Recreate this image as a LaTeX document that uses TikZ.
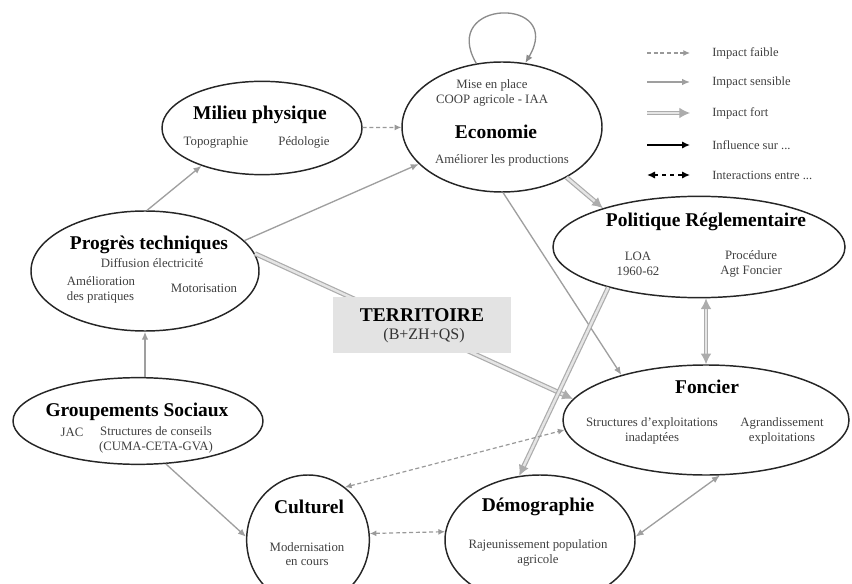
\documentclass[tikz,border=0pt]{standalone}
\usepackage{fontspec}
\setmainfont{Liberation Serif}
\usetikzlibrary{shapes.geometric,arrows.meta}
\tikzset{
  blob/.style={ellipse, draw=black!85, line width=1.1pt, inner sep=0pt},
  ttl/.style={font=\fontsize{14.6}{15}\selectfont\bfseries, inner sep=0pt},
  sub/.style={font=\fontsize{9.6}{11}\selectfont, align=center, text=black!75, inner sep=0pt},
  leg/.style={font=\fontsize{9.4}{10}\selectfont, text=black!75, anchor=west, inner sep=0pt},
  faible/.style={draw=gray!80, line width=0.9pt, dash pattern=on 3pt off 2pt, -{Latex[length=5pt,width=4.5pt]}},
  faible2/.style={faible, {Latex[length=5pt,width=4.5pt]}-{Latex[length=5pt,width=4.5pt]}},
  sensible/.style={draw=gray!75, line width=1pt, -{Latex[length=6pt,width=5pt]}},
  sensible2/.style={sensible, {Latex[length=6pt,width=5pt]}-{Latex[length=6pt,width=5pt]}},
  fort/.style={draw=gray!65, double=gray!20, line width=0.9pt, double distance=1.8pt, -{Latex[length=8pt,width=8pt]}},
  fort2/.style={fort, {Latex[length=8pt,width=8pt]}-{Latex[length=8pt,width=8pt]}},
  influence/.style={draw=black, line width=1.1pt, -{Latex[length=6pt,width=5.5pt]}},
  interact/.style={draw=black, line width=1.1pt, dash pattern=on 3pt off 3pt, {Latex[length=6pt,width=5.5pt]}-{Latex[length=6pt,width=5.5pt]}},
  terrbox/.style={fill=black!11, draw=none, minimum width=134pt, minimum height=42pt, inner sep=0pt},
}

\begin{document}
\begin{tikzpicture}[x=0.75pt, y=-0.75pt]
\clip (0,0) rectangle (852,584);
% ellipses
\node[blob, minimum width=150pt, minimum height=70pt] (milieu) at (262,128) {};
\node[blob, minimum width=150pt, minimum height=97.5pt] (eco) at (502,127) {};
\node[blob, minimum width=171pt, minimum height=90pt] (prog) at (145,271) {};
\node[blob, minimum width=187.5pt, minimum height=65pt] (grp) at (138,421) {};
\node[blob, minimum width=219pt, minimum height=76pt] (pol) at (699,247) {};
\node[blob, minimum width=214.5pt, minimum height=82.5pt] (fon) at (706,420) {};
\node[blob, minimum width=92pt, minimum height=97.5pt] (cult) at (308,540) {};
\node[blob, minimum width=142.5pt, minimum height=97.5pt] (demo) at (540,540) {};

% texts
\node[ttl] (milieuT) at (260,115) {Milieu physique};
\node[sub] (topo) at (216,142) {Topographie};
\node[sub] (pedo) at (304,142) {Pédologie};

\node[sub] (coop) at (492,93) {Mise en place\\COOP agricole - IAA};
\node[ttl] (ecoT) at (496,132) {Economie};
\node[sub] (ameP) at (502,160) {Améliorer les productions};

\node[ttl] (progT) at (149,245) {Progrès techniques};
\node[sub] (diff) at (152,263) {Diffusion électricité};
\node[sub, align=left] (amel) at (101,290) {Amélioration\\des pratiques};
\node[sub] (moto) at (204,288) {Motorisation};

\node[ttl] (grpT) at (137,412) {Groupements Sociaux};
\node[sub] (jac) at (72,432) {JAC};
\node[sub] (cons) at (156,440) {Structures de conseils\\(CUMA-CETA-GVA)};

\node[ttl] (polT) at (706,222) {Politique Réglementaire};
\node[sub] (loa) at (638,264) {LOA\\1960-62};
\node[sub] (proc) at (751,264) {Procédure\\Agt Foncier};

\node[ttl] (fonT) at (707,387) {Foncier};
\node[sub] (inad) at (652,431) {Structures d'exploitations\\inadaptées};
\node[sub] (agr) at (782,431) {Agrandissement\\exploitations};

\node[ttl] (cultT) at (309,507) {Culturel};
\node[sub] (mod) at (307,554) {Modernisation\\en cours};

\node[ttl] (demoT) at (538,507) {Démographie};
\node[sub] (raj) at (538,553) {Rajeunissement population\\agricole};

% connectors
\draw[faible] (milieu) -- (eco);
\draw[sensible] (prog.88) -- (milieu.212);
\draw[sensible] (prog.17) -- (eco.204);
\draw[fort] (prog.9) -- (fon.171);
\draw[sensible] (grp.north -| prog.south) -- (prog.south);
\draw[sensible] (grp.303) -- (cult.177);
\draw[fort] (eco.322) -- (pol.158);
\draw[sensible] (eco.271) -- (fon.152);
\draw[fort] (pol.204) -- (demo.108);
\draw[fort2] (fon.north |- pol.south) -- (fon.north);
\draw[faible2] (cult.55) -- (fon.184);
\draw[faible2] (cult.6) -- (demo.175);
\draw[sensible2] (demo.2) -- (fon.284);
\draw[sensible, draw=gray!90] (eco.112) .. controls +(-38,-65) and +(40,-67) .. (eco.70);

% territoire
\node[terrbox] (terr) at (422,325) {};
\node[ttl] (terrT) at (422,315) {TERRITOIRE};
\node[sub, text=black!80, font=\fontsize{12}{13}\selectfont] (terrS) at (424,336) {(B+ZH+QS)};

% legende
\coordinate (l1a) at (647,53);  \coordinate (l1b) at (690,53);
\coordinate (l2a) at (647,82);  \coordinate (l2b) at (690,82);
\coordinate (l3a) at (647,113); \coordinate (l3b) at (690,113);
\coordinate (l4a) at (647,145); \coordinate (l4b) at (690,145);
\coordinate (l5a) at (647,175); \coordinate (l5b) at (690,175);
\draw[faible] (l1a) -- (l1b);
\draw[sensible] (l2a) -- (l2b);
\draw[fort] (l3a) -- (l3b);
\draw[influence] (l4a) -- (l4b);
\draw[interact] (l5a) -- (l5b);
\node[leg] (leg1) at (712,53) {Impact faible};
\node[leg] (leg2) at (712,82) {Impact sensible};
\node[leg] (leg3) at (712,113) {Impact fort};
\node[leg] (leg4) at (712,145) {Influence sur ...};
\node[leg] (leg5) at (712,175) {Interactions entre ...};
\end{tikzpicture}
\end{document}
